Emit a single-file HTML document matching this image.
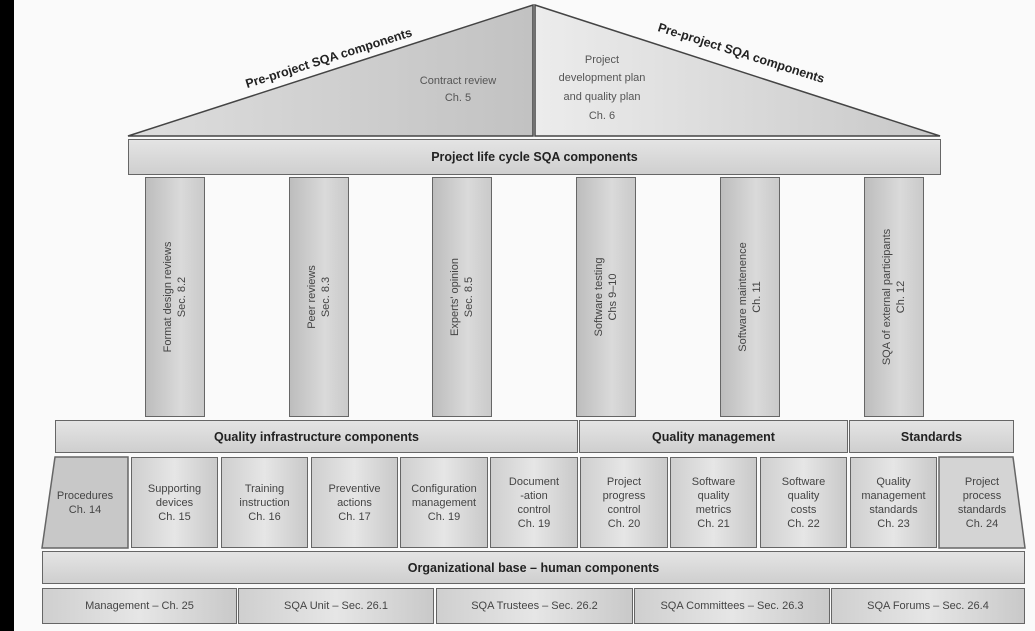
<!DOCTYPE html>
<html><head><style>
body{margin:0;width:1035px;height:631px;background:#fafafa;position:relative;overflow:hidden;font-family:"Liberation Sans",sans-serif;color:#333}
.b{position:absolute;box-sizing:border-box;border:1.5px solid #666;background:linear-gradient(90deg,#cfcfcf,#e6e6e6 50%,#c9c9c9);display:flex;align-items:center;justify-content:center;text-align:center;font-size:11px;line-height:14px;color:#444}
.h{font-weight:bold;font-size:12.5px;color:#222;background:linear-gradient(180deg,#e4e4e4,#cfcfcf)}
.p{position:absolute;box-sizing:border-box;border:1.5px solid #666;background:linear-gradient(90deg,#bdbdbd,#dadada 60%,#cacaca)}
.p span{position:absolute;left:50%;top:50%;transform:translate(-50%,-50%) rotate(-90deg);white-space:nowrap;font-size:11px;line-height:14px;text-align:center;color:#444}
</style></head><body>
<div style="position:absolute;left:0;top:0;width:14px;height:631px;background:#000"></div>
<svg style="position:absolute;left:0;top:0" width="1035" height="631">
<defs><linearGradient id="g1" x1="0" x2="1"><stop offset="0" stop-color="#dedede"/><stop offset="1" stop-color="#c2c2c2"/></linearGradient>
<linearGradient id="g2" x1="0" x2="1"><stop offset="0" stop-color="#ececec"/><stop offset="1" stop-color="#c8c8c8"/></linearGradient></defs>
<polygon points="128,136 533,5 533,136" fill="url(#g1)" stroke="#444" stroke-width="1.5"/>
<polygon points="535,5 940,136 535,136" fill="url(#g2)" stroke="#444" stroke-width="1.5"/>
<text x="330" y="62" transform="rotate(-17.5 330 62)" text-anchor="middle" font-family="Liberation Sans" font-weight="bold" font-size="12.5" fill="#222">Pre-project SQA components</text>
<text x="740" y="57" transform="rotate(17.5 740 57)" text-anchor="middle" font-family="Liberation Sans" font-weight="bold" font-size="12.5" fill="#222">Pre-project SQA components</text>
<text x="458" y="84" text-anchor="middle" font-family="Liberation Sans" font-size="11" fill="#555">Contract review</text>
<text x="458" y="101" text-anchor="middle" font-family="Liberation Sans" font-size="11" fill="#555">Ch. 5</text>
<g font-family="Liberation Sans" font-size="11" fill="#555" text-anchor="middle">
<text x="602" y="63">Project</text><text x="602" y="81">development plan</text><text x="602" y="100">and quality plan</text><text x="602" y="119">Ch. 6</text></g>
<polygon points="55,457 128,457 128,548 42,548" fill="#c8c8c8" stroke="#666" stroke-width="1.5"/>
<polygon points="939,457 1013,457 1025,548 939,548" fill="#d4d4d4" stroke="#666" stroke-width="1.5"/>
</svg>
<div class="b h" style="left:128px;top:139px;width:813px;height:36px">Project life cycle SQA components</div>
<div class="p" style="left:145px;top:177px;width:60px;height:240px"><span>Format design reviews<br>Sec. 8.2</span></div>
<div class="p" style="left:289px;top:177px;width:60px;height:240px"><span>Peer reviews<br>Sec. 8.3</span></div>
<div class="p" style="left:432px;top:177px;width:60px;height:240px"><span>Experts' opinion<br>Sec. 8.5</span></div>
<div class="p" style="left:576px;top:177px;width:60px;height:240px"><span>Software testing<br>Chs 9–10</span></div>
<div class="p" style="left:720px;top:177px;width:60px;height:240px"><span>Software maintenence<br>Ch. 11</span></div>
<div class="p" style="left:864px;top:177px;width:60px;height:240px"><span>SQA of external participants<br>Ch. 12</span></div>
<div class="b h" style="left:55px;top:420px;width:523px;height:33px">Quality infrastructure components</div>
<div class="b h" style="left:579px;top:420px;width:269px;height:33px">Quality management</div>
<div class="b h" style="left:849px;top:420px;width:165px;height:33px">Standards</div>
<div class="b" style="left:42px;top:457px;width:86px;height:91px;border:none;background:none">Procedures<br>Ch. 14</div>
<div class="b" style="left:131px;top:457px;width:87px;height:91px">Supporting<br>devices<br>Ch. 15</div>
<div class="b" style="left:221px;top:457px;width:87px;height:91px">Training<br>instruction<br>Ch. 16</div>
<div class="b" style="left:311px;top:457px;width:87px;height:91px">Preventive<br>actions<br>Ch. 17</div>
<div class="b" style="left:400px;top:457px;width:88px;height:91px">Configuration<br>management<br>Ch. 19</div>
<div class="b" style="left:490px;top:457px;width:88px;height:91px">Document<br>-ation<br>control<br>Ch. 19</div>
<div class="b" style="left:580px;top:457px;width:88px;height:91px">Project<br>progress<br>control<br>Ch. 20</div>
<div class="b" style="left:670px;top:457px;width:87px;height:91px">Software<br>quality<br>metrics<br>Ch. 21</div>
<div class="b" style="left:760px;top:457px;width:87px;height:91px">Software<br>quality<br>costs<br>Ch. 22</div>
<div class="b" style="left:850px;top:457px;width:87px;height:91px">Quality<br>management<br>standards<br>Ch. 23</div>
<div class="b" style="left:939px;top:457px;width:86px;height:91px;border:none;background:none">Project<br>process<br>standards<br>Ch. 24</div>
<div class="b h" style="left:42px;top:551px;width:983px;height:33px">Organizational base – human components</div>
<div class="b" style="left:42px;top:588px;width:195px;height:36px">Management – Ch. 25</div>
<div class="b" style="left:238px;top:588px;width:196px;height:36px">SQA Unit – Sec. 26.1</div>
<div class="b" style="left:436px;top:588px;width:197px;height:36px">SQA Trustees – Sec. 26.2</div>
<div class="b" style="left:634px;top:588px;width:196px;height:36px">SQA Committees – Sec. 26.3</div>
<div class="b" style="left:831px;top:588px;width:194px;height:36px">SQA Forums – Sec. 26.4</div>
</body></html>
